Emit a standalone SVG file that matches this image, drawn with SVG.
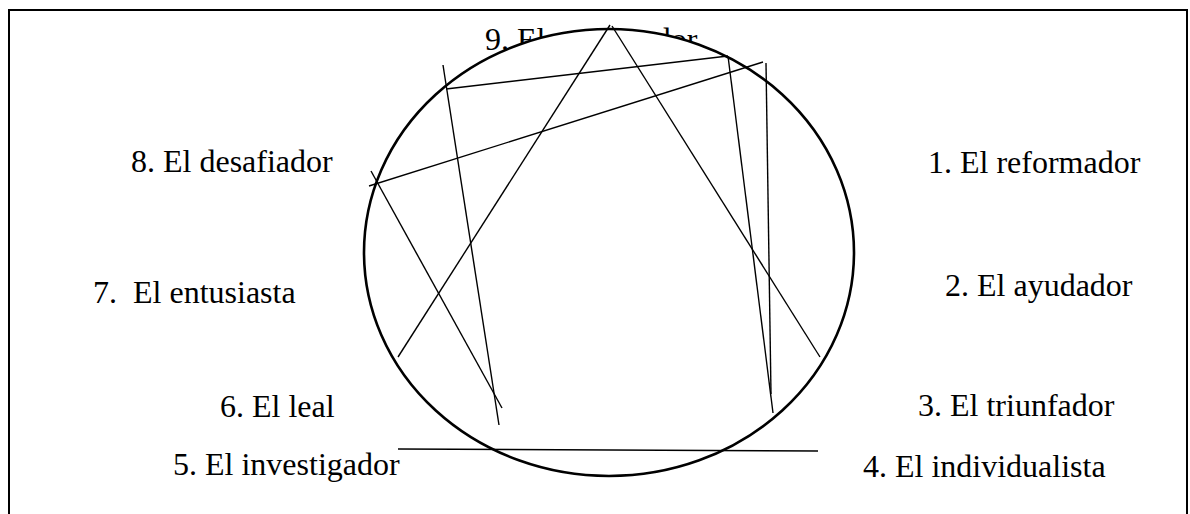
<svg xmlns="http://www.w3.org/2000/svg" width="1190" height="514" viewBox="0 0 1190 514">
<style>
.lbl{font-family:"Liberation Serif","Times New Roman",serif;font-size:32px;fill:#000;white-space:pre}
.ln{stroke:#000;stroke-width:1.4;fill:none;stroke-linecap:butt}
</style>
<rect width="1190" height="514" fill="#fff"/>
<rect id="frame" x="9" y="10" width="1178" height="530" fill="none" stroke="#000" stroke-width="2"/>
<g id="n9"><text class="lbl" x="485" y="50">9. El pacificador</text></g>
<g id="circle"><ellipse cx="609" cy="252.5" rx="245" ry="223.5" fill="#fff" stroke="#000" stroke-width="2.6"/></g>
<g id="n1"><text class="lbl" x="928" y="173">1. El reformador</text></g>
<g id="n2"><text class="lbl" x="945" y="296">2. El ayudador</text></g>
<g id="n3"><text class="lbl" x="918" y="416">3. El triunfador</text></g>
<g id="n4"><text class="lbl" x="863" y="477">4. El individualista</text></g>
<g id="n5"><text class="lbl" x="173" y="475">5. El investigador</text></g>
<g id="n6"><text class="lbl" x="220" y="417">6. El leal</text></g>
<g id="n7"><text class="lbl" x="93" y="303">7.  El entusiasta</text></g>
<g id="n8"><text class="lbl" x="131" y="172">8. El desafiador</text></g>
<g id="connectors">
<line class="ln" x1="610" y1="25" x2="398" y2="357"/>
<line class="ln" x1="612" y1="26" x2="820" y2="357"/>
<line class="ln" x1="443" y1="65" x2="499" y2="425"/>
<line class="ln" x1="446" y1="89" x2="728" y2="56"/>
<line class="ln" x1="728" y1="56" x2="773" y2="413"/>
<line class="ln" x1="766" y1="63" x2="771" y2="394"/>
<line class="ln" x1="763" y1="62" x2="369" y2="186"/>
<line class="ln" x1="371" y1="171" x2="502" y2="408"/>
<line class="ln" x1="398" y1="449" x2="818" y2="451"/>
</g>
</svg>
